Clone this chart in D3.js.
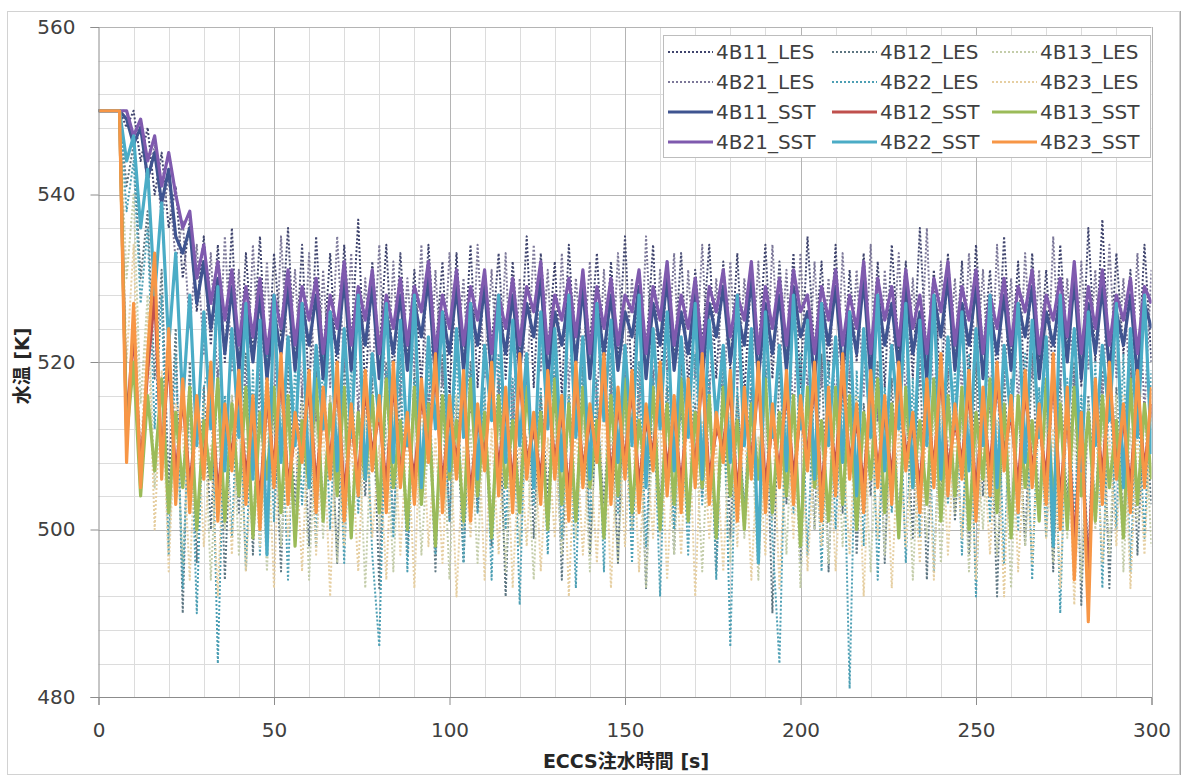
<!DOCTYPE html>
<html>
<head>
<meta charset="utf-8">
<script src="https://cdn.jsdelivr.net/npm/d3@7"></script>
<style>
  html, body { margin: 0; padding: 0; background: #ffffff; }
  svg { display: block; }
  text { font-family: "DejaVu Sans", "Noto Sans CJK JP", sans-serif; }
</style>
</head>
<body>
<svg id="chart" width="1184" height="776"></svg>
<script>
// Sample times after ECCS injection start [s]
const timeS = [
  0, 6, 8, 10, 12, 14, 16, 18, 20, 22,
  24, 26, 28, 30, 32, 34, 36, 38, 40, 42,
  44, 46, 48, 50, 52, 54, 56, 58, 60, 62,
  64, 66, 68, 70, 72, 74, 76, 78, 80, 82,
  84, 86, 88, 90, 92, 94, 96, 98, 100, 102,
  104, 106, 108, 110, 112, 114, 116, 118, 120, 122,
  124, 126, 128, 130, 132, 134, 136, 138, 140, 142,
  144, 146, 148, 150, 152, 154, 156, 158, 160, 162,
  164, 166, 168, 170, 172, 174, 176, 178, 180, 182,
  184, 186, 188, 190, 192, 194, 196, 198, 200, 202,
  204, 206, 208, 210, 212, 214, 216, 218, 220, 222,
  224, 226, 228, 230, 232, 234, 236, 238, 240, 242,
  244, 246, 248, 250, 252, 254, 256, 258, 260, 262,
  264, 266, 268, 270, 272, 274, 276, 278, 280, 282,
  284, 286, 288, 290, 292, 294, 296, 298, 300
];

// Water temperature [K], LES results
const les4B11 = [
  550, 550, 548, 550, 544, 548, 540, 545, 536, 541,
  530, 537, 526, 535, 522, 534, 520, 536, 518, 533,
  521, 535, 517, 533, 523, 536, 519, 534, 516, 535,
  520, 533, 518, 534, 522, 537, 516, 532, 521, 534,
  518, 533, 520, 531, 517, 534, 521, 532, 516, 533,
  519, 534, 517, 531, 522, 533, 518, 532, 520, 535,
  517, 533, 521, 532, 516, 534, 519, 531, 522, 533,
  518, 532, 520, 535, 517, 531, 521, 534, 516, 532,
  520, 533, 517, 531, 522, 534, 518, 532, 519, 533,
  516, 531, 521, 534, 518, 532, 520, 533, 517, 535,
  521, 532, 518, 534, 516, 531, 520, 533, 519, 532,
  517, 534, 521, 532, 518, 536, 520, 531, 516, 533,
  519, 532, 517, 534, 521, 531, 518, 535, 520, 532,
  516, 533, 520, 531, 518, 534, 521, 532, 517, 536,
  520, 537, 518, 533, 521, 531, 517, 534, 520
];
const les4B12 = [
  550, 550, 541, 546, 530, 538, 518, 531, 505, 524,
  490, 520, 496, 517, 500, 519, 494, 516, 502, 521,
  497, 518, 501, 515, 495, 520, 503, 517, 498, 519,
  502, 516, 496, 521, 499, 515, 504, 518, 493, 520,
  500, 517, 497, 519, 503, 516, 495, 521, 501, 515,
  496, 520, 502, 514, 498, 518, 492, 517, 503, 521,
  499, 516, 504, 519, 494, 517, 501, 520, 497, 515,
  503, 518, 496, 521, 500, 516, 493, 519, 502, 517,
  497, 520, 501, 515, 504, 518, 495, 521, 499, 516,
  502, 517, 498, 519, 490, 520, 503, 516, 496, 518,
  500, 521, 495, 517, 502, 519, 497, 515, 504, 520,
  496, 518, 501, 516, 499, 521, 494, 517, 503, 519,
  501, 515, 497, 520, 504, 517, 492, 519, 500, 516,
  498, 521, 502, 517, 495, 518, 503, 520, 491, 516,
  502, 519, 493, 517, 500, 521, 497, 515, 503
];
const les4B13 = [
  550, 550, 530, 540, 515, 528, 505, 518, 498, 514,
  496, 513, 499, 515, 494, 512, 500, 516, 497, 511,
  501, 514, 495, 516, 498, 512, 502, 515, 494, 513,
  499, 516, 496, 511, 501, 514, 493, 515, 500, 512,
  495, 513, 502, 516, 497, 511, 499, 514, 494, 516,
  500, 512, 496, 515, 502, 513, 495, 516, 498, 511,
  494, 514, 501, 512, 497, 516, 499, 513, 495, 515,
  502, 511, 496, 514, 500, 516, 493, 512, 499, 515,
  497, 516, 501, 513, 495, 514, 500, 511, 496, 516,
  499, 512, 494, 515, 501, 513, 497, 516, 493, 514,
  500, 511, 496, 516, 498, 514, 502, 512, 495, 515,
  497, 513, 501, 516, 494, 512, 499, 515, 496, 511,
  502, 514, 495, 512, 500, 516, 497, 513, 493, 515,
  498, 511, 501, 514, 496, 516, 499, 512, 494, 515,
  500, 513, 497, 516, 495, 512, 501, 514, 498
];
const les4B21 = [
  550, 550, 550, 546, 549, 541, 546, 537, 542, 532,
  537, 524, 534, 521, 533, 517, 535, 519, 531, 515,
  534, 518, 532, 514, 535, 520, 531, 516, 533, 513,
  531, 517, 535, 519, 533, 514, 530, 518, 534, 515,
  532, 516, 530, 519, 534, 513, 531, 517, 533, 520,
  530, 514, 534, 518, 531, 516, 533, 512, 530, 517,
  534, 519, 531, 514, 533, 517, 530, 520, 532, 515,
  531, 516, 533, 518, 530, 514, 535, 517, 531, 519,
  533, 513, 531, 518, 534, 516, 530, 514, 532, 517,
  530, 518, 532, 515, 534, 519, 531, 513, 533, 516,
  532, 517, 530, 514, 533, 518, 531, 516, 534, 513,
  531, 519, 533, 515, 530, 517, 536, 514, 532, 518,
  530, 516, 533, 519, 531, 514, 534, 517, 530, 515,
  533, 518, 531, 514, 535, 517, 530, 516, 532, 519,
  531, 515, 534, 518, 530, 516, 533, 514, 531
];
const les4B22 = [
  550, 550, 538, 544, 527, 536, 512, 528, 497, 521,
  493, 518, 490, 517, 520, 484, 516, 499, 520, 495,
  519, 497, 521, 501, 517, 494, 520, 503, 516, 498,
  521, 500, 518, 496, 520, 502, 517, 497, 486, 519,
  499, 521, 495, 518, 503, 520, 497, 516, 501, 522,
  496, 519, 502, 517, 494, 521, 500, 518, 491, 520,
  503, 517, 497, 522, 499, 516, 493, 519, 501, 518,
  495, 521, 502, 517, 496, 520, 498, 518, 492, 519,
  500, 516, 497, 521, 503, 518, 494, 520, 486, 517,
  501, 519, 496, 520, 499, 484, 517, 502, 521, 497,
  518, 495, 520, 500, 517, 481, 519, 498, 521, 494,
  517, 502, 520, 496, 518, 499, 521, 495, 516, 503,
  519, 497, 521, 492, 517, 501, 520, 496, 518, 500,
  521, 494, 517, 499, 520, 490, 518, 502, 516, 496,
  520, 493, 518, 500, 521, 495, 517, 499, 519
];
const les4B23 = [
  550, 550, 520, 534, 508, 526, 500, 519, 495, 515,
  512, 494, 515, 498, 510, 492, 514, 497, 516, 495,
  511, 498, 514, 493, 516, 499, 512, 495, 515, 497,
  513, 492, 516, 498, 511, 495, 514, 499, 510, 494,
  515, 497, 512, 493, 516, 498, 511, 496, 514, 492,
  510, 499, 515, 494, 512, 497, 516, 493, 511, 498,
  514, 495, 511, 499, 516, 492, 513, 497, 510, 496,
  516, 493, 512, 498, 514, 495, 511, 499, 515, 494,
  511, 497, 516, 492, 513, 499, 510, 495, 514, 498,
  513, 494, 511, 497, 515, 493, 512, 499, 516, 495,
  510, 498, 514, 495, 511, 497, 516, 492, 513, 499,
  515, 493, 512, 498, 510, 496, 514, 494, 516, 497,
  512, 499, 515, 494, 511, 497, 513, 492, 516, 495,
  510, 496, 514, 499, 512, 493, 515, 491, 511, 490,
  514, 496, 511, 498, 516, 493, 512, 497, 515
];

// Water temperature [K], SST results
const sst4B11 = [
  550, 550, 549, 546, 548, 542, 545, 539, 543, 535,
  533, 536, 527, 532, 524, 530, 521, 529, 519, 527,
  520, 528, 518, 526, 521, 529, 519, 527, 522, 528,
  518, 526, 521, 530, 519, 527, 522, 529, 518, 526,
  521, 528, 519, 527, 523, 530, 518, 526, 521, 529,
  519, 527, 522, 529, 518, 526, 521, 528, 519, 527,
  523, 530, 518, 526, 522, 528, 520, 529, 518, 527,
  521, 528, 519, 526, 523, 529, 518, 527, 522, 530,
  519, 526, 521, 528, 518, 527, 523, 529, 520, 526,
  522, 530, 518, 527, 521, 528, 519, 529, 523, 526,
  518, 527, 522, 529, 519, 526, 521, 530, 518, 528,
  522, 527, 519, 529, 521, 526, 518, 528, 523, 530,
  519, 527, 522, 529, 518, 526, 521, 528, 519, 527,
  523, 529, 518, 526, 522, 528, 520, 530, 518, 527,
  521, 529, 519, 526, 522, 528, 518, 527, 524
];
const sst4B12 = [
  550, 550, 512, 524, 507, 519, 528, 508, 521, 506,
  516, 505, 514, 508, 518, 504, 513, 509, 517, 506,
  514, 503, 516, 507, 519, 505, 512, 510, 517, 505,
  515, 508, 518, 504, 513, 506, 517, 509, 514, 505,
  518, 507, 512, 506, 516, 510, 519, 505, 514, 508,
  517, 504, 513, 509, 518, 507, 515, 505, 519, 508,
  512, 506, 517, 508, 514, 504, 518, 507, 513, 510,
  519, 506, 515, 508, 517, 505, 513, 509, 518, 507,
  514, 505, 516, 507, 519, 506, 512, 510, 517, 504,
  515, 508, 518, 505, 513, 507, 517, 506, 514, 509,
  518, 504, 515, 507, 519, 508, 513, 505, 517, 507,
  514, 506, 518, 509, 512, 505, 516, 507, 519, 507,
  513, 508, 517, 504, 515, 507, 518, 509, 514, 505,
  517, 507, 513, 506, 519, 503, 515, 498, 512, 494,
  516, 506, 518, 508, 513, 505, 517, 507, 515
];
const sst4B13 = [
  550, 550, 511, 520, 504, 516, 507, 518, 502, 514,
  505, 517, 500, 513, 506, 518, 501, 515, 504, 517,
  499, 514, 506, 517, 502, 516, 498, 513, 505, 518,
  501, 515, 504, 517, 499, 514, 506, 516, 502, 518,
  505, 513, 500, 517, 503, 515, 498, 516, 506, 513,
  501, 518, 504, 514, 499, 516, 505, 513, 502, 517,
  506, 514, 500, 518, 503, 515, 501, 517, 505, 513,
  499, 516, 504, 518, 502, 513, 506, 517, 500, 515,
  503, 518, 501, 514, 505, 516, 499, 517, 504, 513,
  500, 515, 506, 518, 502, 514, 504, 516, 498, 517,
  505, 513, 501, 517, 503, 516, 500, 514, 506, 518,
  502, 515, 499, 517, 505, 513, 503, 518, 501, 516,
  504, 517, 500, 514, 506, 518, 502, 515, 499, 516,
  505, 513, 501, 518, 503, 515, 500, 517, 504, 514,
  501, 516, 505, 513, 499, 518, 503, 515, 506
];
const sst4B21 = [
  550, 550, 550, 547, 549, 544, 547, 541, 545, 540,
  536, 538, 530, 534, 527, 532, 525, 531, 522, 529,
  523, 530, 521, 528, 524, 531, 522, 529, 525, 530,
  521, 528, 524, 532, 522, 529, 525, 531, 521, 528,
  524, 530, 522, 529, 526, 532, 521, 528, 524, 531,
  522, 529, 525, 531, 521, 528, 524, 530, 522, 529,
  526, 532, 521, 528, 525, 530, 523, 531, 521, 529,
  524, 530, 522, 528, 526, 531, 521, 529, 525, 532,
  522, 528, 524, 530, 521, 529, 526, 531, 523, 528,
  525, 532, 521, 529, 524, 530, 522, 531, 526, 528,
  521, 529, 525, 531, 522, 528, 524, 532, 521, 530,
  525, 529, 522, 531, 524, 528, 521, 530, 526, 532,
  522, 529, 525, 531, 521, 528, 524, 530, 522, 529,
  526, 531, 521, 528, 525, 530, 523, 532, 521, 529,
  524, 531, 522, 528, 525, 530, 521, 529, 527
];
const sst4B22 = [
  550, 550, 544, 547, 536, 543, 528, 539, 522, 533,
  515, 528, 510, 526, 512, 529, 507, 524, 511, 527,
  506, 525, 497, 528, 508, 523, 510, 527, 505, 522,
  512, 526, 507, 524, 511, 528, 506, 521, 513, 527,
  508, 525, 510, 528, 505, 523, 512, 526, 507, 524,
  511, 527, 506, 522, 513, 528, 508, 525, 510, 521,
  505, 526, 512, 524, 507, 528, 511, 523, 506, 527,
  513, 525, 508, 522, 510, 528, 505, 524, 512, 526,
  507, 523, 511, 527, 506, 525, 513, 522, 508, 528,
  510, 524, 496, 526, 511, 522, 507, 528, 512, 525,
  506, 527, 510, 523, 508, 526, 504, 524, 511, 528,
  507, 522, 512, 527, 505, 525, 510, 528, 506, 523,
  512, 526, 507, 524, 510, 528, 505, 522, 513, 527,
  508, 525, 511, 523, 498, 528, 512, 524, 507, 526,
  510, 522, 513, 527, 505, 524, 511, 528, 509
];
const sst4B23 = [
  550, 550, 508, 527, 505, 521, 533, 506, 524, 503,
  518, 502, 516, 506, 520, 501, 515, 507, 519, 503,
  516, 500, 518, 505, 521, 503, 514, 508, 519, 502,
  517, 506, 520, 501, 515, 504, 519, 507, 516, 502,
  520, 505, 514, 503, 518, 508, 521, 502, 516, 506,
  519, 501, 515, 507, 520, 504, 517, 502, 521, 506,
  514, 503, 519, 506, 516, 501, 520, 505, 515, 508,
  521, 503, 517, 506, 519, 502, 515, 507, 520, 504,
  516, 502, 518, 505, 521, 503, 514, 508, 519, 501,
  517, 506, 520, 502, 515, 505, 519, 503, 516, 507,
  520, 501, 517, 504, 521, 506, 515, 502, 519, 505,
  516, 503, 520, 507, 514, 502, 518, 505, 521, 504,
  515, 506, 519, 501, 517, 504, 520, 507, 516, 502,
  519, 505, 515, 503, 521, 500, 517, 494, 514, 489,
  518, 503, 520, 506, 515, 502, 519, 505, 517
];

// Series names, in drawing / legend order
const seriesNames = [
  "4B11_LES", "4B12_LES", "4B13_LES",
  "4B21_LES", "4B22_LES", "4B23_LES",
  "4B11_SST", "4B12_SST", "4B13_SST",
  "4B21_SST", "4B22_SST", "4B23_SST"
];
const seriesValues = [
  les4B11, les4B12, les4B13, les4B21, les4B22, les4B23,
  sst4B11, sst4B12, sst4B13, sst4B21, sst4B22, sst4B23
];

// Axis ticks
const xTicks = [0, 50, 100, 150, 200, 250, 300];
const yTicks = [480, 500, 520, 540, 560];

// Line styles
const seriesColors = [
  "#40456e", "#5d7682", "#c4cdaa",
  "#7c7899", "#4d9fb4", "#e6cfa2",
  "#3f5490", "#c0504d", "#9bbb59",
  "#7f5aae", "#4bacc6", "#f79646"
];
const isDotted = seriesNames.map(n => n.endsWith("_LES"));

const svg = d3.select("#chart");
const plot = { left: 98.5, right: 1151.5, top: 27, bottom: 697 };

const x = d3.scaleLinear().domain([0, 300]).range([plot.left, plot.right]);
const y = d3.scaleLinear().domain([480, 560]).range([plot.bottom, plot.top]);

// Chart frame
svg.append("rect")
  .attr("x", 7.5).attr("y", 11.5)
  .attr("width", 1172).attr("height", 763)
  .attr("fill", "#ffffff")
  .attr("stroke", "#d2d2d2");
svg.append("line")
  .attr("x1", 1180.5).attr("x2", 1180.5).attr("y1", 11).attr("y2", 775)
  .attr("stroke", "#a8a8a8");

// Minor gridlines
const gMinor = svg.append("g");
gMinor.selectAll("line.vx")
  .data(d3.range(0, 301, 10).filter(v => v % 50 !== 0))
  .join("line")
  .attr("x1", d => Math.round(x(d)) + 0.5).attr("x2", d => Math.round(x(d)) + 0.5)
  .attr("y1", plot.top).attr("y2", plot.bottom)
  .attr("stroke", "#dcdcdc").attr("stroke-width", 1);
gMinor.selectAll("line.hy")
  .data(d3.range(480, 561, 4).filter(v => v % 20 !== 0))
  .join("line")
  .attr("x1", plot.left).attr("x2", plot.right)
  .attr("y1", d => Math.round(y(d)) + 0.5).attr("y2", d => Math.round(y(d)) + 0.5)
  .attr("stroke", "#dcdcdc").attr("stroke-width", 1);

// Major gridlines
const gMajor = svg.append("g");
gMajor.selectAll("line.vx")
  .data(xTicks.slice(1))
  .join("line")
  .attr("x1", d => Math.round(x(d)) + 0.5).attr("x2", d => Math.round(x(d)) + 0.5)
  .attr("y1", plot.top).attr("y2", plot.bottom)
  .attr("stroke", "#b4b4b4").attr("stroke-width", 1);
gMajor.selectAll("line.hy")
  .data(yTicks.slice(1))
  .join("line")
  .attr("x1", plot.left).attr("x2", plot.right)
  .attr("y1", d => Math.round(y(d)) + 0.5).attr("y2", d => Math.round(y(d)) + 0.5)
  .attr("stroke", "#b4b4b4").attr("stroke-width", 1);

// Data lines, clipped to the plot area
svg.append("clipPath").attr("id", "plotClip")
  .append("rect")
  .attr("x", plot.left).attr("y", plot.top)
  .attr("width", plot.right - plot.left).attr("height", plot.bottom - plot.top);

const line = d3.line()
  .x(d => x(d[0]))
  .y(d => y(d[1]));

const gLines = svg.append("g").attr("clip-path", "url(#plotClip)");
seriesValues.forEach((vals, k) => {
  const pts = vals.map((v, i) => [timeS[i], v]).filter(p => p[0] !== undefined);
  gLines.append("path")
    .datum(pts)
    .attr("d", line)
    .attr("fill", "none")
    .attr("stroke", seriesColors[k])
    .attr("stroke-width", isDotted[k] ? 2 : 3.2)
    .attr("stroke-dasharray", isDotted[k] ? "2,2" : null)
    .attr("stroke-linejoin", "round");
});

// Axes
const xAxis = d3.axisBottom(x).tickValues(xTicks).tickSize(8).tickPadding(18);
const yAxis = d3.axisLeft(y).tickValues(yTicks).tickSize(8).tickPadding(15);

const gx = svg.append("g").attr("transform", `translate(0,${plot.bottom})`).call(xAxis);
const gy = svg.append("g").attr("transform", `translate(${plot.left},0)`).call(yAxis);
[gx, gy].forEach(g => {
  g.select(".domain").attr("stroke", "#8c8c8c");
  g.selectAll(".tick line").attr("stroke", "#8c8c8c");
  g.selectAll(".tick text")
    .attr("fill", "#404040")
    .style("font-size", "20px")
    .style("font-family", "'DejaVu Sans', sans-serif");
});

// Axis titles
svg.append("text")
  .attr("x", 626).attr("y", 768)
  .attr("text-anchor", "middle")
  .attr("fill", "#262626")
  .style("font-size", "19px").style("font-weight", "bold")
  .text("ECCS注水時間 [s]");
svg.append("text")
  .attr("transform", "translate(29,366) rotate(-90)")
  .attr("text-anchor", "middle")
  .attr("fill", "#262626")
  .style("font-size", "19px").style("font-weight", "bold")
  .text("水温 [K]");

// Legend
const legend = svg.append("g");
legend.append("rect")
  .attr("x", 663.5).attr("y", 35.5)
  .attr("width", 487).attr("height", 122)
  .attr("fill", "#ffffff")
  .attr("stroke", "#bdbdbd");
const colX = [668, 832, 992];
const rowY = [52, 82, 112, 142];
seriesNames.forEach((name, k) => {
  const cx = colX[k % 3], cy = rowY[Math.floor(k / 3)];
  legend.append("line")
    .attr("x1", cx).attr("x2", cx + 45)
    .attr("y1", cy).attr("y2", cy)
    .attr("stroke", seriesColors[k])
    .attr("stroke-width", isDotted[k] ? 2 : 3.2)
    .attr("stroke-dasharray", isDotted[k] ? "2,2" : null);
  legend.append("text")
    .attr("x", cx + 48).attr("y", cy)
    .attr("dy", "0.36em")
    .attr("fill", "#404040")
    .style("font-size", "20px")
    .text(name);
});
</script>
</body>
</html>
